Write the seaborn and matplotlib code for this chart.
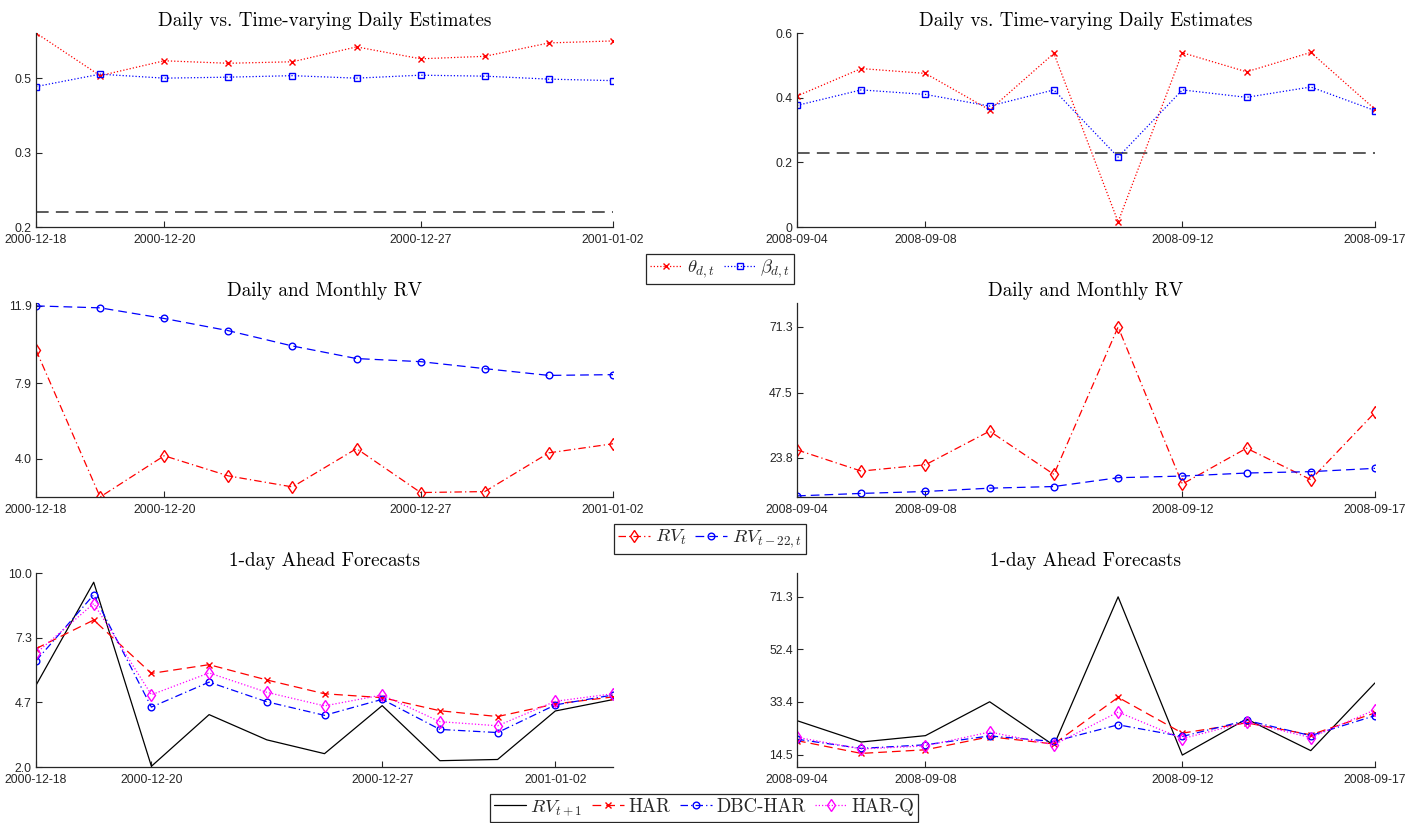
import numpy as np
import matplotlib
matplotlib.use("Agg")
import matplotlib.pyplot as plt
import seaborn as sns

# ---------------- data ----------------
dates_left = ["2000-12-18", "2000-12-20", "2000-12-27", "2001-01-02"]
dates_right = ["2008-09-04", "2008-09-08", "2008-09-12", "2008-09-17"]
date_tick_idx = [0, 2, 6, 9]

# daily coefficient: time-varying (theta), DBC (beta) and constant HAR estimate
theta_left = [0.591, 0.505, 0.535, 0.530, 0.533, 0.563, 0.539, 0.544, 0.571, 0.575]
beta_left = [0.483, 0.508, 0.500, 0.502, 0.505, 0.500, 0.506, 0.504, 0.498, 0.495]
har_daily_left = 0.230
theta_right = [0.405, 0.490, 0.475, 0.362, 0.537, 0.016, 0.539, 0.480, 0.540, 0.364]
beta_right = [0.376, 0.424, 0.410, 0.374, 0.424, 0.216, 0.424, 0.401, 0.433, 0.360]
har_daily_right = 0.229

# daily and monthly realized variance
rv_left = [9.62, 2.03, 4.16, 3.12, 2.55, 4.53, 2.26, 2.31, 4.31, 4.78]
rv_month_left = [11.90, 11.80, 11.25, 10.62, 9.83, 9.18, 9.02, 8.66, 8.31, 8.35]
rv_right = [26.7, 19.0, 21.3, 33.5, 17.8, 71.3, 14.3, 27.3, 15.9, 40.3]
rv_month_right = [10.0, 10.9, 11.6, 12.8, 13.4, 16.6, 17.2, 18.3, 18.8, 20.0]

# one-day-ahead forecasts
rv_next_left = [5.37, 9.62, 2.03, 4.16, 3.12, 2.55, 4.53, 2.26, 2.31, 4.31, 4.78]
har_left = [6.88, 8.06, 5.86, 6.22, 5.59, 5.02, 4.86, 4.32, 4.08, 4.60, 4.89]
dbc_left = [6.38, 9.10, 4.47, 5.50, 4.69, 4.13, 4.79, 3.55, 3.42, 4.56, 4.97]
harq_left = [6.69, 8.74, 4.98, 5.88, 5.08, 4.52, 4.97, 3.87, 3.70, 4.71, 5.02]
rv_next_right = [26.7, 19.0, 21.3, 33.5, 17.8, 71.3, 14.3, 27.3, 15.9, 40.3]
har_right = [19.5, 14.9, 16.2, 20.9, 18.3, 35.1, 22.2, 25.9, 21.6, 29.5]
dbc_right = [20.0, 16.7, 18.0, 21.2, 19.2, 25.2, 21.0, 26.8, 21.3, 28.5]
harq_right = [20.7, 16.5, 17.6, 22.6, 18.0, 29.8, 20.2, 26.2, 20.6, 30.6]

# y tick values and their printed labels
yt_coef_left, yl_coef_left = [0.2, 0.35, 0.5], ["0.2", "0.3", "0.5"]
yt_coef_right, yl_coef_right = [0.0, 0.2, 0.4, 0.6], ["0", "0.2", "0.4", "0.6"]
yt_rv_left, yl_rv_left = [4.0, 7.9, 11.9], ["4.0", "7.9", "11.9"]
yt_rv_right, yl_rv_right = [23.8, 47.5, 71.3], ["23.8", "47.5", "71.3"]
yt_fc_left, yl_fc_left = [2.0, 4.667, 7.333, 10.0], ["2.0", "4.7", "7.3", "10.0"]
yt_fc_right, yl_fc_right = [14.5, 33.43, 52.37, 71.3], ["14.5", "33.4", "52.4", "71.3"]

titles = ["Daily vs. Time-varying Daily Estimates", "Daily and Monthly RV",
          "1-day Ahead Forecasts"]

# ---------------- style ----------------
sns.set_theme(style="ticks")
plt.rcParams["font.family"] = ["Liberation Sans", "DejaVu Sans"]
plt.rcParams["mathtext.fontset"] = "cm"
AX_GREY = "#262626"

RED, BLUE, MAG, BLACK = "#ff0000", "#0000ff", "#ff00ff", "#000000"
DOT = (0, (1, 1.6))
DASH = (0, (7, 4))
DASHDOT = (0, (6, 2.5, 1, 2.5))

fig = plt.figure(figsize=(14.24, 8.23), dpi=100)
W, H = 1424, 823


def make_ax(x0, x1, top, bottom):
    return fig.add_axes([x0 / W, 1 - bottom / H, (x1 - x0) / W, (bottom - top) / H])


def draw(ax, values, color, marker, ls, label, ms=4.8, lw=0.9):
    sns.lineplot(x=np.arange(len(values)), y=values, ax=ax, color=color,
                 marker=marker if marker else None, markersize=ms,
                 markerfacecolor="none", markeredgecolor=color,
                 markeredgewidth=1.0, linestyle=ls, linewidth=lw,
                 label=label, errorbar=None, legend=False)


def finish(ax, title, n, dates, yt, yl, ylim):
    ax.set_xlim(0, n - 1)
    ax.set_ylim(*ylim)
    ax.set_xticks(date_tick_idx)
    ax.set_xticklabels(dates)
    ax.set_yticks(yt)
    ax.set_yticklabels(yl)
    ax.set_xlabel("")
    ax.set_ylabel("")
    sns.despine(ax=ax)
    for s in ("left", "bottom"):
        ax.spines[s].set_color(AX_GREY)
        ax.spines[s].set_linewidth(0.9)
    ax.tick_params(direction="in", length=4, width=0.8, color=AX_GREY,
                   labelcolor=AX_GREY, labelsize=8.8)
    ax.tick_params(axis="x", pad=5)
    ax.tick_params(axis="y", pad=3)
    ax.set_title(title, fontfamily="cmr10", fontsize=13.8, pad=5, color="black")
    ax.grid(False)


cols = [(36, 613), (797, 1375)]
rows = [(33, 227), (303, 497), (573, 767)]

# ---- row 1: daily coefficients ----
for ci, (theta, beta, const, dates, yt, yl, ylim) in enumerate([
        (theta_left, beta_left, har_daily_left, dates_left, yt_coef_left, yl_coef_left, (0.2, 0.591)),
        (theta_right, beta_right, har_daily_right, dates_right, yt_coef_right, yl_coef_right, (0.0, 0.6))]):
    ax = make_ax(cols[ci][0], cols[ci][1], *rows[0])
    ax.axhline(const, color="#4d4d4d", lw=1.3, ls=DASH, zorder=1)
    draw(ax, theta, RED, "x", DOT, r"$\theta_{d,t}$", ms=4.5)
    draw(ax, beta, BLUE, "s", DOT, r"$\beta_{d,t}$", ms=4.3)
    finish(ax, titles[0], len(theta), dates, yt, yl, ylim)
    if ci == 0:
        h1, l1 = ax.get_legend_handles_labels()

# ---- row 2: daily and monthly RV ----
for ci, (rv, rvm, dates, yt, yl, ylim) in enumerate([
        (rv_left, rv_month_left, dates_left, yt_rv_left, yl_rv_left, (2.03, 12.05)),
        (rv_right, rv_month_right, dates_right, yt_rv_right, yl_rv_right, (9.6, 80.0))]):
    ax = make_ax(cols[ci][0], cols[ci][1], *rows[1])
    draw(ax, rv, RED, "d", DASHDOT, r"$RV_t$", ms=6.5)
    draw(ax, rvm, BLUE, "o", DASH, r"$RV_{t-22,t}$", ms=4.8)
    finish(ax, titles[1], len(rv), dates, yt, yl, ylim)
    if ci == 0:
        h2, l2 = ax.get_legend_handles_labels()

# ---- row 3: one-day-ahead forecasts ----
for ci, (rvn, har, dbc, harq, dates, yt, yl, ylim) in enumerate([
        (rv_next_left, har_left, dbc_left, harq_left, dates_left, yt_fc_left, yl_fc_left, (2.0, 10.0)),
        (rv_next_right, har_right, dbc_right, harq_right, dates_right, yt_fc_right, yl_fc_right, (10.0, 79.9))]):
    ax = make_ax(cols[ci][0], cols[ci][1], *rows[2])
    draw(ax, rvn, BLACK, None, "-", r"$RV_{t+1}$")
    draw(ax, har, RED, "x", DASH, "HAR", ms=4.5)
    draw(ax, dbc, BLUE, "o", DASHDOT, "DBC-HAR", ms=4.8)
    draw(ax, harq, MAG, "d", DOT, "HAR-Q", ms=6.5)
    finish(ax, titles[2], len(rvn), dates, yt, yl, ylim)
    if ci == 0:
        h3, l3 = ax.get_legend_handles_labels()


def fig_legend(handles, labels, cx, cy):
    leg = fig.legend(handles, labels, loc="center", bbox_to_anchor=(cx / W, 1 - cy / H),
                     ncol=len(handles), frameon=True, fancybox=False, shadow=False,
                     edgecolor=AX_GREY, facecolor="white", framealpha=1,
                     prop={"family": "cmr10", "size": 13.5},
                     handlelength=1.7, handletextpad=0.25, columnspacing=0.5,
                     borderpad=0.2, borderaxespad=0.0, numpoints=1)
    leg.get_frame().set_linewidth(0.9)
    return leg


fig_legend(h1, l1, 720, 269)
fig_legend(h2, l2, 710, 539)
fig_legend(h3, l3, 704, 808)

fig.savefig("out.png", dpi=100)
